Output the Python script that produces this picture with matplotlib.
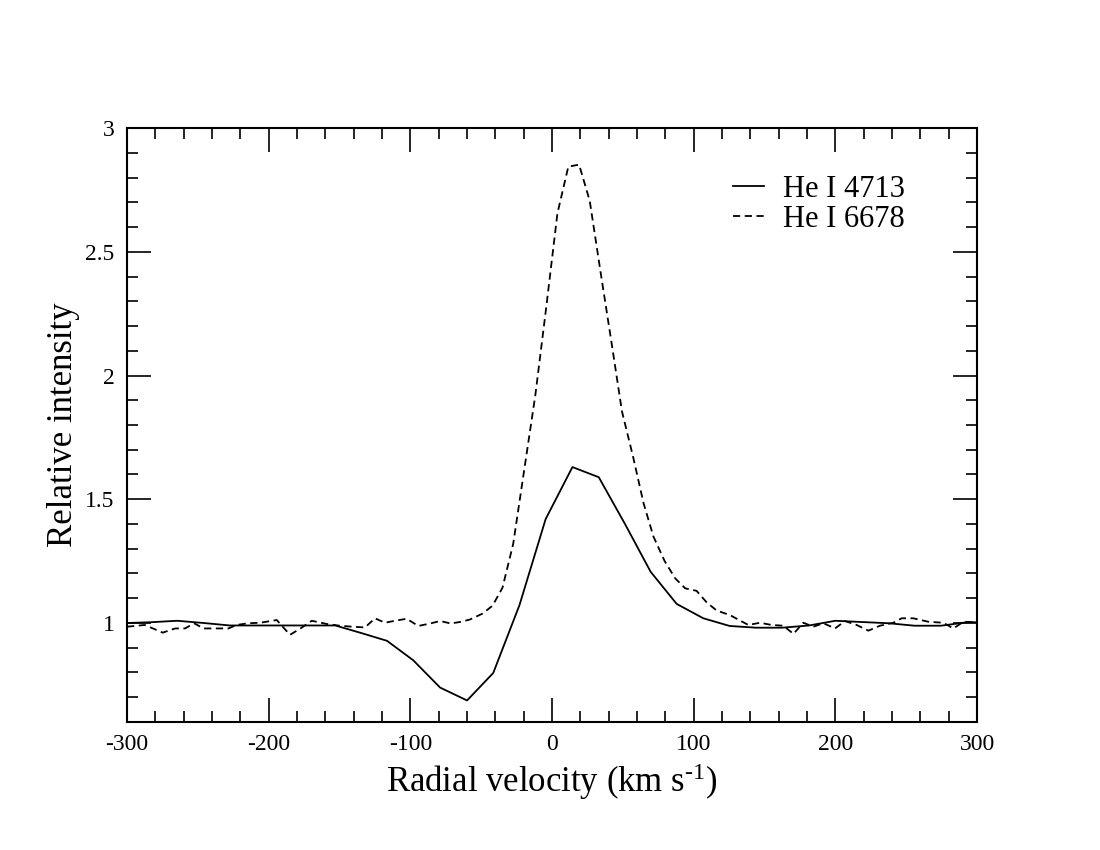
import matplotlib
matplotlib.use("Agg")
from matplotlib import pyplot as plt
from matplotlib.ticker import MultipleLocator

plt.rcParams['font.family'] = ['Liberation Serif', 'DejaVu Serif']
plt.rcParams['mathtext.fontset'] = 'custom'
plt.rcParams['mathtext.rm'] = 'Liberation Serif'
plt.rcParams['mathtext.default'] = 'rm'
plt.rcParams['axes.unicode_minus'] = False

# He I 4713 (linha cheia)
vel_4713 = [-300, -283.5, -264.5, -246, -227.5, -209, -190.5, -172, -153, -135,
            -116.5, -97.9, -79, -60, -41.5, -23, -4.5, 14.4, 33, 51.5,
            69.6, 88, 106.8, 125.4, 144, 162.5, 181.5, 200, 218.5, 237.5,
            256, 274.5, 293, 300]
int_4713 = [1.0, 1.003, 1.009, 1.0, 0.99, 0.99, 0.99, 0.99, 0.99, 0.96,
            0.928, 0.849, 0.739, 0.687, 0.798, 1.072, 1.42, 1.63, 1.589, 1.40,
            1.207, 1.077, 1.019, 0.988, 0.981, 0.981, 0.99, 1.009, 1.004, 0.999,
            0.989, 0.989, 1.003, 1.003]

# He I 6678 (linha tracejada)
vel_6678 = [-300, -287.5, -274.8, -266, -259, -252.7, -246, -237, -228.5, -222.6,
            -214.4, -206, -194.3, -185, -177, -169.6, -159, -150, -141, -132,
            -125, -117.9, -110, -102.6, -94.4, -86, -79, -71.5, -64, -58,
            -49, -42, -35, -27.4, -19.6, -11.8, -4, 3.8, 11.5, 19.1,
            26.6, 34.2, 41.8, 49.4, 57.2, 64.6, 71.6, 79.5, 87, 94,
            102, 109.2, 116.3, 125.6, 132, 138.6, 146.8, 155, 163.3, 170.4,
            177.4, 184.5, 191.5, 199.8, 206.8, 215, 223.3, 231.5, 241, 246.8,
            255, 265.6, 276.2, 283.3, 290.4, 300]
int_6678 = [0.985, 0.992, 0.961, 0.978, 0.978, 0.999, 0.978, 0.978, 0.978, 0.992,
            0.999, 1.001, 1.012, 0.952, 0.98, 1.009, 0.996, 0.989, 0.985, 0.982,
            1.019, 1.001, 1.01, 1.017, 0.988, 0.998, 1.008, 0.998, 1.005, 1.014,
            1.038, 1.07, 1.142, 1.32, 1.62, 1.92, 2.28, 2.655, 2.844, 2.852,
            2.706, 2.42, 2.14, 1.854, 1.672, 1.484, 1.349, 1.25, 1.18, 1.14,
            1.13, 1.083, 1.05, 1.032, 1.012, 0.992, 1.001, 0.992, 0.989, 0.956,
            1.001, 0.985, 0.999, 0.978, 1.008, 0.992, 0.969, 0.989, 1.001, 1.019,
            1.019, 1.005, 1.001, 0.978, 1.005, 1.003]

fig = plt.figure(figsize=(11, 8.5), dpi=100)
ax = fig.add_axes([0.1155, 0.1506, 0.7727, 0.6988])

ax.plot(vel_4713, int_4713, color='black', linestyle='-', linewidth=1.3, label='He I 4713')
ax.plot(vel_6678, int_6678, color='black', linestyle=(0, (4, 2.5)), linewidth=1.3, label='He I 6678')

ax.set_xlim(-300, 300)
ax.set_ylim(0.6, 3)
ax.xaxis.set_major_locator(MultipleLocator(100))
ax.xaxis.set_minor_locator(MultipleLocator(20))
ax.yaxis.set_major_locator(MultipleLocator(0.5))
ax.yaxis.set_minor_locator(MultipleLocator(0.1))
ax.yaxis.set_major_formatter(plt.FuncFormatter(lambda v, p: '%g' % v))

ax.tick_params(which='both', direction='in', top=True, right=True, width=1.2)
ax.tick_params(which='major', length=17, labelsize=17, pad=9)
ax.tick_params(which='minor', length=8)
for s in ax.spines.values():
    s.set_linewidth(1.5)

ax.set_xlabel(r'Radial velocity (km s$^{\text{-1}}$)', fontsize=25, labelpad=4)
ax.set_ylabel('Relative intensity', fontsize=25)
ax.yaxis.set_label_coords(-0.055, 0.5)

ax.legend(loc='upper right', bbox_to_anchor=(0.915, 0.921), frameon=False, fontsize=22,
          handlelength=1.0, handletextpad=0.62, labelspacing=0.02,
          borderpad=0, borderaxespad=0)

fig.savefig('out.png', dpi=100)
